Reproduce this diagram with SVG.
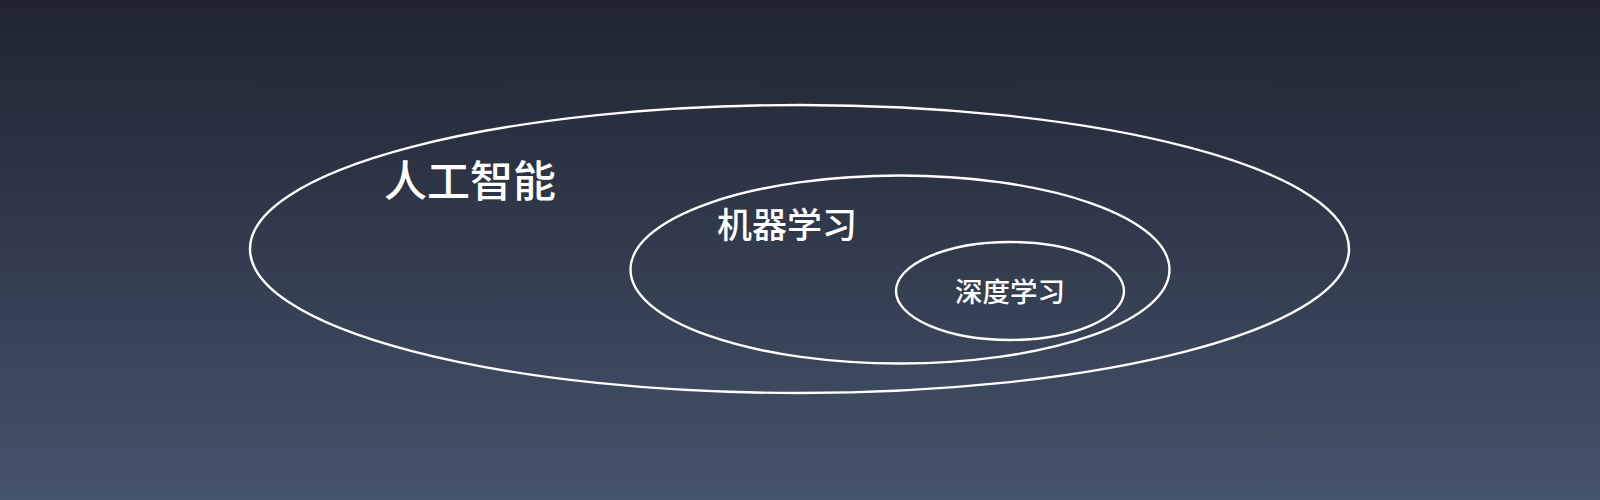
<svg xmlns="http://www.w3.org/2000/svg" width="1600" height="500" viewBox="0 0 1600 500">
<style>
.ring{fill:none;stroke:#ffffff;stroke-width:2.4}
.lbl{fill:#ffffff;font-family:"Noto Sans CJK SC","Noto Sans",sans-serif;font-weight:500}
</style>
<defs>
<linearGradient id="bg" x1="0" y1="0" x2="0" y2="1">
<stop offset="0" stop-color="#1f2430"/>
<stop offset="1" stop-color="#45536b"/>
</linearGradient>
</defs>
<rect width="1600" height="500" fill="url(#bg)"/>
<g id="ai">
<ellipse class="ring" cx="799.5" cy="249" rx="549.5" ry="144"/>
<text class="lbl" x="384" y="197" font-size="43">人工智能</text>
</g>
<g id="ml">
<ellipse class="ring" cx="900" cy="269.5" rx="269.5" ry="94"/>
<text class="lbl" x="717" y="238" font-size="35">机器学习</text>
</g>
<g id="dl">
<ellipse class="ring" cx="1010" cy="291" rx="114" ry="49"/>
<text class="lbl" x="955" y="302" font-size="27.5">深度学习</text>
</g>
<g id="connectors"/>
</svg>
